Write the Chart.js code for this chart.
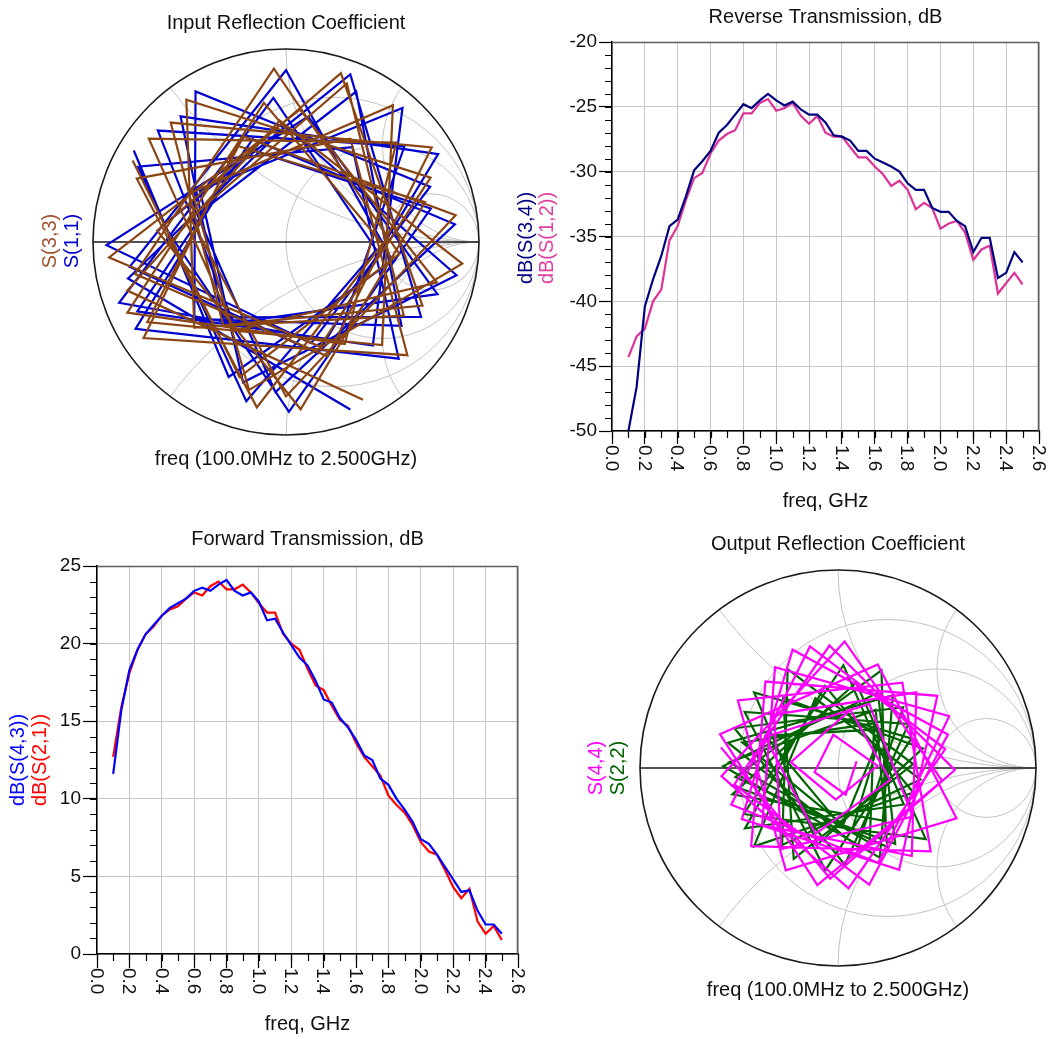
<!DOCTYPE html>
<html>
<head>
<meta charset="utf-8">
<title>Amplifier S-parameters</title>
<script src="https://cdn.jsdelivr.net/npm/chart.js@4.4.1/dist/chart.umd.min.js"></script>
<style>
  html, body { margin: 0; padding: 0; background: #ffffff; }
  body { width: 1050px; height: 1039px; position: relative; overflow: hidden; }
  canvas { position: absolute; }
</style>
</head>
<body>
<canvas id="inRefl" width="505" height="500" style="left:0px;top:0px;"></canvas>
<canvas id="revTx" width="545" height="520" style="left:505px;top:0px;"></canvas>
<canvas id="fwdTx" width="530" height="519" style="left:0px;top:520px;"></canvas>
<canvas id="outRefl" width="490" height="519" style="left:560px;top:520px;"></canvas>
<script>
const FONT = '"Liberation Sans", Arial, Helvetica, sans-serif';

// ---- sweep: 100 MHz to 2.5 GHz, 50 MHz steps ----
const freqGHz = [0.10, 0.15, 0.20, 0.25, 0.30, 0.35, 0.40, 0.45, 0.50, 0.55,
                 0.60, 0.65, 0.70, 0.75, 0.80, 0.85, 0.90, 0.95, 1.00, 1.05,
                 1.10, 1.15, 1.20, 1.25, 1.30, 1.35, 1.40, 1.45, 1.50, 1.55,
                 1.60, 1.65, 1.70, 1.75, 1.80, 1.85, 1.90, 1.95, 2.00, 2.05,
                 2.10, 2.15, 2.20, 2.25, 2.30, 2.35, 2.40, 2.45, 2.50];

// ---- reverse transmission, dB ----
const dbS34 = [-50.0, -46.6, -40.4, -38.3, -36.5, -34.2, -33.7, -31.9, -29.9, -29.2,
               -28.4, -27.0, -26.4, -25.6, -24.8, -25.1, -24.5, -24.0, -24.5, -24.9,
               -24.6, -25.2, -25.6, -25.6, -26.2, -27.2, -27.3, -27.6, -28.4, -28.4,
               -29.0, -29.3, -29.6, -30.0, -30.9, -31.4, -31.4, -32.8, -33.1, -33.1,
               -33.8, -34.2, -36.2, -35.1, -35.1, -38.2, -37.8, -36.2, -37.0];
const dbS12 = [-44.3, -42.7, -42.1, -40.0, -39.1, -35.3, -34.2, -32.2, -30.5, -30.1,
               -28.6, -27.6, -27.1, -26.8, -25.5, -25.5, -24.7, -24.4, -25.3, -25.1,
               -24.7, -25.7, -26.3, -25.7, -27.0, -27.3, -27.3, -28.1, -28.9, -28.9,
               -29.6, -30.2, -31.1, -30.7, -31.4, -32.9, -32.4, -32.8, -34.4, -34.0,
               -33.8, -34.7, -36.8, -36.0, -35.7, -39.4, -38.6, -37.8, -38.7];

// ---- forward transmission, dB ----
const dbS43 = [11.6, 15.7, 18.3, 19.6, 20.6, 21.2, 21.8, 22.3, 22.6, 22.9,
               23.4, 23.6, 23.4, 23.8, 24.1, 23.4, 23.1, 23.3, 22.7, 21.5,
               21.6, 20.7, 19.9, 19.1, 18.6, 17.6, 16.4, 16.2, 15.2, 14.6,
               13.8, 12.8, 12.5, 11.3, 10.9, 10.0, 9.3, 8.5, 7.4, 7.1,
               6.4, 5.6, 4.8, 4.0, 4.1, 2.8, 1.9, 1.9, 1.3];
const dbS21 = [12.7, 15.9, 18.1, 19.6, 20.6, 21.1, 21.8, 22.2, 22.4, 22.9,
               23.3, 23.1, 23.7, 24.0, 23.5, 23.5, 23.8, 23.3, 22.6, 22.0,
               22.0, 20.6, 20.0, 19.6, 18.4, 17.3, 17.0, 16.0, 15.1, 14.7,
               13.6, 12.7, 12.1, 11.5, 10.2, 9.6, 9.1, 8.3, 7.2, 6.6,
               6.4, 5.4, 4.3, 3.6, 4.2, 2.1, 1.3, 1.8, 0.9];

// ---- input reflection, magnitude / angle (deg) ----
const s11Mag = [0.93, 0.84, 0.60, 0.90, 0.76, 0.52, 0.92, 0.70, 0.85, 0.56,
                0.88, 0.78, 0.48, 0.86, 0.74, 0.62, 0.91, 0.80, 0.54, 0.93,
                0.66, 0.83, 0.50, 0.88, 0.79, 0.58, 0.92, 0.75, 0.47, 0.85,
                0.86, 0.60, 0.84, 0.90, 0.53, 0.77, 0.88, 0.64, 0.93, 0.80,
                0.51, 0.85, 0.91, 0.60, 0.82, 0.89, 0.56, 0.76, 0.92];
const s11Ang = [-69, -167, 90, -11, -107, 149, 49, -50, -155, 108,
                6, -94, 163, 65, -36, -140, 121, 21, -76, -179,
                80, -19, -123, 139, 39, -63, -160, 95, -5, -104,
                153, 55, -46, -150, 113, 13, -89, 172, 69, -29,
                -130, 130, 30, -74, -171, 90, -10, -113, 149];
const s33Mag = [0.91, 0.86, 0.63, 0.92, 0.79, 0.55, 0.90, 0.73, 0.83, 0.59,
                0.89, 0.80, 0.51, 0.88, 0.72, 0.65, 0.90, 0.82, 0.57, 0.92,
                0.69, 0.81, 0.53, 0.89, 0.77, 0.61, 0.90, 0.73, 0.50, 0.87,
                0.84, 0.63, 0.86, 0.89, 0.56, 0.75, 0.87, 0.67, 0.92, 0.78,
                0.54, 0.86, 0.90, 0.63, 0.80, 0.90, 0.59, 0.74, 0.90];
const s33Ang = [-64, -163, 93, -7, -104, 152, 52, -47, -150, 112,
                9, -90, 166, 69, -32, -137, 125, 24, -72, -175,
                84, -15, -120, 143, 42, -60, -156, 99, -1, -100,
                157, 58, -43, -146, 117, 16, -85, 175, 72, -25,
                -127, 134, 33, -70, -168, 94, -6, -109, 152];

// ---- output reflection, magnitude / angle (deg) ----
const s44Mag = [0.10, 0.14, 0.12, 0.17, 0.20, 0.16, 0.24, 0.30, 0.27, 0.35,
                0.40, 0.36, 0.45, 0.50, 0.42, 0.55, 0.58, 0.48, 0.60, 0.62,
                0.52, 0.57, 0.63, 0.55, 0.61, 0.59, 0.64, 0.53, 0.60, 0.62,
                0.56, 0.65, 0.58, 0.61, 0.54, 0.63, 0.59, 0.57, 0.62, 0.60,
                0.55, 0.64, 0.58, 0.61, 0.53, 0.62, 0.59, 0.56, 0.60];
const s44Ang = [20, -74, -170, 98, 3, -94, 173, 78, -13, -109,
                157, 64, -33, -125, 140, 44, -50, -143, 122, 25,
                -67, -161, 103, 10, -85, -176, 87, -7, -100, 164,
                69, -23, -117, 146, 53, -42, -138, 130, 36, -59,
                -152, 111, 17, -75, -171, 94, -1, -94, 170];
const s22Mag = [0.22, 0.30, 0.40, 0.30, 0.33, 0.50, 0.29, 0.41, 0.55, 0.35,
                0.47, 0.52, 0.54, 0.36, 0.55, 0.44, 0.57, 0.53, 0.52, 0.38,
                0.56, 0.42, 0.40, 0.58, 0.37, 0.42, 0.48, 0.56, 0.38, 0.51,
                0.45, 0.44, 0.40, 0.57, 0.40, 0.52, 0.55, 0.42, 0.49, 0.56,
                0.45, 0.41, 0.57, 0.46, 0.50, 0.58, 0.43, 0.48, 0.55];
const s22Ang = [30, -86, 156, 41, -78, 165, 51, -67, 177, 57,
                -58, -175, 66, -48, -166, 78, -39, -154, 87, -29,
                -147, 99, -18, -137, 108, -8, -126, 117, 3, -116,
                128, 13, -105, 138, 22, -97, 149, 32, -86, 159,
                43, -76, 167, 53, -65, 179, 62, -53, -171];

// Smith chart grid values
const resistanceCircles = [1 / 3, 1, 3];
const reactanceArcs = [0.5, 1, 2];

Chart.defaults.font.family = FONT;

// Titles, footers and the rotated trace names beside each plot
const panelText = {
  id: 'panelText',
  afterDraw(chart, args, opts) {
    const { ctx, chartArea: a } = chart;
    const cx = (a.left + a.right) / 2;
    ctx.save();
    ctx.font = '20px ' + FONT;
    ctx.fillStyle = '#111';
    ctx.textAlign = 'center';
    ctx.textBaseline = 'middle';
    if (opts.title) ctx.fillText(opts.title, cx, opts.titleY);
    if (opts.footer) ctx.fillText(opts.footer, cx, opts.footerY);
    (opts.names || []).forEach(n => {
      ctx.save();
      ctx.translate(n.x, n.y);
      ctx.rotate(-Math.PI / 2);
      ctx.fillStyle = n.color;
      ctx.fillText(n.text, 0, 0);
      ctx.restore();
    });
    ctx.restore();
  }
};

// Frame, minor tick marks and the vertical frequency labels of the rectangular plots
const axisDecor = {
  id: 'axisDecor',
  afterDraw(chart, args, opts) {
    const { ctx, chartArea: a, scales: { x, y } } = chart;
    ctx.save();
    ctx.strokeStyle = '#5c5c5c';
    ctx.lineWidth = 1.5;
    ctx.beginPath();
    ctx.moveTo(a.left, a.top + 0.5);
    ctx.lineTo(a.right - 0.5, a.top + 0.5);
    ctx.lineTo(a.right - 0.5, a.bottom);
    ctx.stroke();

    ctx.strokeStyle = '#000';
    ctx.lineWidth = 1.2;
    ctx.beginPath();
    const nx = Math.round((x.max - x.min) / opts.xMinor);
    for (let i = 0; i <= nx; i++) {
      const px = Math.round(x.getPixelForValue(x.min + i * opts.xMinor)) + 0.5;
      ctx.moveTo(px, a.bottom);
      ctx.lineTo(px, a.bottom + 7);
    }
    const ny = Math.round((y.max - y.min) / opts.yMinor);
    for (let i = 0; i <= ny; i++) {
      const py = Math.round(y.getPixelForValue(y.min + i * opts.yMinor)) + 0.5;
      ctx.moveTo(a.left, py);
      ctx.lineTo(a.left - 7, py);
    }
    ctx.stroke();

    ctx.font = '19px ' + FONT;
    ctx.fillStyle = '#111';
    ctx.textAlign = 'left';
    ctx.textBaseline = 'middle';
    x.ticks.forEach(t => {
      const px = x.getPixelForValue(t.value);
      ctx.save();
      ctx.translate(px - 1, a.bottom + 14);
      ctx.rotate(Math.PI / 2);
      ctx.fillText(t.value.toFixed(1), 0, 0);
      ctx.restore();
    });
    ctx.restore();
  }
};

// Constant-resistance circles, constant-reactance arcs, rim and real axis
const smithGrid = {
  id: 'smithGrid',
  beforeDatasetsDraw(chart) {
    const { ctx, scales: { x, y } } = chart;
    const cx = x.getPixelForValue(0);
    const cy = y.getPixelForValue(0);
    const R = x.getPixelForValue(1) - cx;
    ctx.save();
    ctx.beginPath();
    ctx.arc(cx, cy, R, 0, 2 * Math.PI);
    ctx.clip();
    ctx.strokeStyle = '#c3c3c3';
    ctx.lineWidth = 1;
    resistanceCircles.forEach(r => {
      ctx.beginPath();
      ctx.arc(x.getPixelForValue(r / (1 + r)), cy, R / (1 + r), 0, 2 * Math.PI);
      ctx.stroke();
    });
    reactanceArcs.forEach(xv => {
      [1, -1].forEach(sg => {
        ctx.beginPath();
        ctx.arc(x.getPixelForValue(1), y.getPixelForValue(sg / xv), R / xv, 0, 2 * Math.PI);
        ctx.stroke();
      });
    });
    ctx.restore();

    ctx.save();
    ctx.strokeStyle = '#1a1a1a';
    ctx.lineWidth = 1.6;
    ctx.beginPath();
    ctx.arc(cx, cy, R, 0, 2 * Math.PI);
    ctx.stroke();
    ctx.beginPath();
    ctx.moveTo(cx - R, cy);
    ctx.lineTo(cx + R, cy);
    ctx.stroke();
    ctx.restore();
  }
};

function gammaPoints(mag, ang) {
  return mag.map((m, i) => ({
    x: m * Math.cos(ang[i] * Math.PI / 180),
    y: m * Math.sin(ang[i] * Math.PI / 180)
  }));
}

function smithChart(id, cfg) {
  return new Chart(document.getElementById(id), {
    type: 'scatter',
    data: {
      datasets: cfg.traces.map(t => ({
        label: t.name,
        data: gammaPoints(t.mag, t.ang),
        showLine: true,
        borderColor: t.color,
        borderWidth: 2.2,
        pointRadius: 0,
        tension: 0
      }))
    },
    options: {
      responsive: false,
      animation: false,
      devicePixelRatio: 1,
      layout: { padding: cfg.padding },
      plugins: {
        legend: { display: false },
        tooltip: { enabled: false },
        panelText: cfg.text
      },
      scales: {
        x: { type: 'linear', min: -1, max: 1, display: false },
        y: { type: 'linear', min: -1, max: 1, display: false }
      }
    },
    plugins: [smithGrid, panelText]
  });
}

function transmissionChart(id, cfg) {
  const gridOpts = { color: '#c6c6c6', lineWidth: 1, tickLength: cfg.tickLen, tickColor: '#000', tickWidth: 1.2 };
  return new Chart(document.getElementById(id), {
    type: 'line',
    data: {
      datasets: cfg.traces.map(t => ({
        label: t.name,
        data: freqGHz.map((f, i) => ({ x: f, y: t.values[i] })),
        borderColor: t.color,
        borderWidth: 2.2,
        pointRadius: 0,
        tension: 0,
        fill: false
      }))
    },
    options: {
      responsive: false,
      animation: false,
      devicePixelRatio: 1,
      layout: { padding: { left: 0, top: cfg.top, right: cfg.right, bottom: 0 } },
      plugins: {
        legend: { display: false },
        tooltip: { enabled: false },
        panelText: cfg.text,
        axisDecor: { xMinor: 0.1, yMinor: 1 }
      },
      scales: {
        x: {
          type: 'linear', min: 0, max: 2.6,
          afterFit: s => { s.height = cfg.xHeight; },
          ticks: { stepSize: 0.2, display: false, autoSkip: false },
          grid: gridOpts,
          border: { color: '#000', width: 1.5 },
          title: {
            display: true, text: 'freq, GHz', color: '#111',
            font: { family: FONT, size: 20 },
            padding: { top: 0, bottom: cfg.xTitlePad }
          }
        },
        y: {
          type: 'linear', min: cfg.yMin, max: cfg.yMax,
          afterFit: s => { s.width = cfg.yWidth; },
          ticks: { stepSize: 5, autoSkip: false, color: '#111', padding: 2, font: { family: FONT, size: 19 } },
          grid: gridOpts,
          border: { color: '#000', width: 1.5 }
        }
      }
    },
    plugins: [axisDecor, panelText]
  });
}

smithChart('inRefl', {
  padding: { left: 93, top: 49, right: 26, bottom: 65 },
  traces: [
    { name: 'S(3,3)', mag: s33Mag, ang: s33Ang, color: '#8b4513' },
    { name: 'S(1,1)', mag: s11Mag, ang: s11Ang, color: '#0000d0' }
  ],
  text: {
    title: 'Input Reflection Coefficient', titleY: 23,
    footer: 'freq (100.0MHz to 2.500GHz)', footerY: 459,
    names: [
      { text: 'S(3,3)', color: '#a0522d', x: 50, y: 241 },
      { text: 'S(1,1)', color: '#0000d0', x: 72, y: 241 }
    ]
  }
});

transmissionChart('revTx', {
  top: 42, right: 11, yWidth: 107, xHeight: 89, xTitlePad: 7, tickLen: 13,
  yMin: -50, yMax: -20,
  traces: [
    { name: 'dB(S(3,4))', values: dbS34, color: '#000080' },
    { name: 'dB(S(1,2))', values: dbS12, color: '#dd3399' }
  ],
  text: {
    title: 'Reverse Transmission, dB', titleY: 17,
    names: [
      { text: 'dB(S(3,4))', color: '#000080', x: 21, y: 238 },
      { text: 'dB(S(1,2))', color: '#e040a0', x: 42, y: 238 }
    ]
  }
});

transmissionChart('fwdTx', {
  top: 46, right: 12, yWidth: 97, xHeight: 85, xTitlePad: 3, tickLen: 14,
  yMin: 0, yMax: 25,
  traces: [
    { name: 'dB(S(4,3))', values: dbS43, color: '#0000ff' },
    { name: 'dB(S(2,1))', values: dbS21, color: '#ff0000' }
  ],
  text: {
    title: 'Forward Transmission, dB', titleY: 19,
    names: [
      { text: 'dB(S(4,3))', color: '#0000ff', x: 18, y: 240 },
      { text: 'dB(S(2,1))', color: '#ff0000', x: 40, y: 240 }
    ]
  }
});

smithChart('outRefl', {
  padding: { left: 80, top: 50, right: 14, bottom: 73 },
  traces: [
    { name: 'S(4,4)', mag: s44Mag, ang: s44Ang, color: '#ff00ff' },
    { name: 'S(2,2)', mag: s22Mag, ang: s22Ang, color: '#006400' }
  ],
  text: {
    title: 'Output Reflection Coefficient', titleY: 24,
    footer: 'freq (100.0MHz to 2.500GHz)', footerY: 470,
    names: [
      { text: 'S(4,4)', color: '#ff00ff', x: 36, y: 248 },
      { text: 'S(2,2)', color: '#006400', x: 58, y: 248 }
    ]
  }
});
</script>
</body>
</html>
